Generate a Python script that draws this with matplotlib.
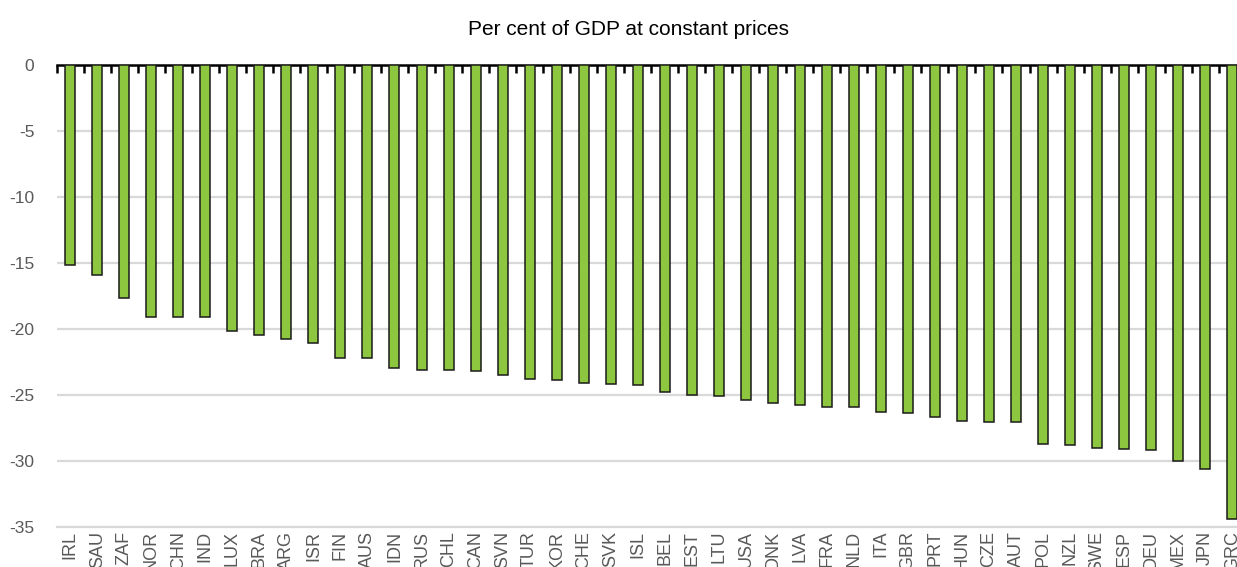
import matplotlib
matplotlib.use("Agg")
import matplotlib.pyplot as plt
import numpy as np

# ---- data ----
countries = ["IRL", "SAU", "ZAF", "NOR", "CHN", "IND", "LUX", "BRA", "ARG", "ISR",
             "FIN", "AUS", "IDN", "RUS", "CHL", "CAN", "SVN", "TUR", "KOR", "CHE",
             "SVK", "ISL", "BEL", "EST", "LTU", "USA", "DNK", "LVA", "FRA", "NLD",
             "ITA", "GBR", "PRT", "HUN", "CZE", "AUT", "POL", "NZL", "SWE", "ESP",
             "DEU", "MEX", "JPN", "GRC"]
values = [-15.2, -15.9, -17.7, -19.1, -19.1, -19.1, -20.2, -20.5, -20.8, -21.1,
          -22.2, -22.2, -23.0, -23.1, -23.1, -23.2, -23.5, -23.8, -23.9, -24.1,
          -24.2, -24.3, -24.8, -25.0, -25.1, -25.4, -25.6, -25.75, -25.95, -25.95,
          -26.3, -26.4, -26.7, -27.0, -27.1, -27.1, -28.75, -28.8, -29.0, -29.1,
          -29.2, -30.0, -30.6, -34.4]
y_ticks = [0, -5, -10, -15, -20, -25, -30, -35]
title = "Per cent of GDP at constant prices"

plt.rcParams["font.family"] = ["Liberation Sans", "DejaVu Sans"]

W, H = 1237, 567
fig = plt.figure(figsize=(W / 100, H / 100), dpi=100)
# plot area runs a little past the right edge, as in the original
ax = fig.add_axes([56.7 / W, 40.3 / H, 1189 / W, 462 / H])

x = np.arange(len(countries))
ax.bar(x, values, width=0.37, color="#8DC63F", edgecolor="#1a1a1a", linewidth=1.1, zorder=3)

ax.set_xlim(-0.5, len(countries) - 0.5)
ax.set_ylim(-35, 0)
ax.set_yticks(y_ticks)
ax.set_yticklabels([str(v) for v in y_ticks])
ax.set_xticks(x)
ax.set_xticklabels(countries, rotation=90)

# gridlines
ax.set_axisbelow(True)
ax.yaxis.grid(True, color="#D9D9D9", linewidth=1.6)

# spines: black zero line on top, grey line at the bottom
for s in ["left", "right"]:
    ax.spines[s].set_visible(False)
ax.spines["top"].set_color("black")
ax.spines["top"].set_linewidth(1.8)
ax.spines["bottom"].set_color("#D9D9D9")
ax.spines["bottom"].set_linewidth(1.6)

# category boundary ticks hanging down from the zero line
ax.set_xticks(np.arange(-0.5, len(countries), 1), minor=True)
ax.tick_params(axis="x", which="minor", top=True, bottom=False, direction="in",
               length=5.5, width=1.8, color="black")
ax.tick_params(axis="x", which="major", length=0, pad=3, labelsize=13, labelcolor="#595959")
ax.tick_params(axis="y", length=0, pad=16, labelsize=12.5, labelcolor="#595959")

fig.text(628 / W, 1 - 35 / H, title, ha="center", va="baseline", fontsize=15, color="black")

fig.savefig("out.png", dpi=100)
